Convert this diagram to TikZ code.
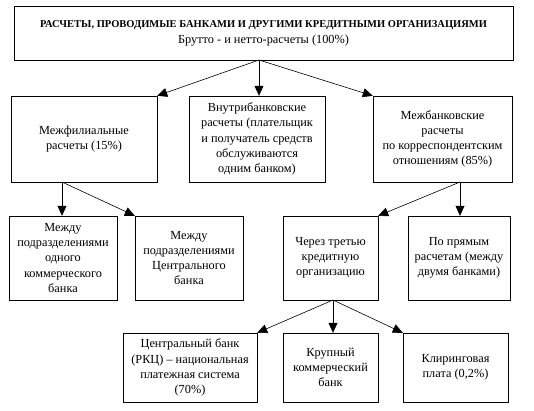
\documentclass[tikz,border=0pt]{standalone}
\usepackage{fontspec}
\setmainfont{Liberation Serif}
\usetikzlibrary{arrows.meta}
\usetikzlibrary{positioning}

\begin{document}
\begin{tikzpicture}[
    x=1pt, y=-1pt,
    >={Triangle[length=10pt,width=9pt]},
    box/.style={draw, align=center, inner sep=1pt, font=\fontsize{12.3}{15.2}\selectfont},
    link/.style={->, line width=0.6pt}
]
    \useasboundingbox (0,0) rectangle (534,410);

    % top
    \node[box, minimum width=499pt, minimum height=54pt] (all) at (263.5,33)
        {{\bfseries\fontsize{10.5}{13}\selectfont РАСЧЕТЫ, ПРОВОДИМЫЕ БАНКАМИ И ДРУГИМИ КРЕДИТНЫМИ ОРГАНИЗАЦИЯМИ}\\[1pt]Брутто - и нетто-расчеты (100\%)};
    \coordinate (allfork) at (259,60);

    % second row
    \node[box, minimum width=146pt, minimum height=86pt] (fil) at (84,139) {Межфилиальные\\расчеты (15\%)};
    \node[box, minimum width=136pt, minimum height=86pt] (intra) at (257,139)
        {Внутрибанковские\\расчеты (плательщик\\и получатель средств\\обслуживаются\\одним банком)};
    \node[box, minimum width=139pt, minimum height=86pt] (corr) at (442.5,139)
        {Межбанковские\\расчеты\\по корреспондентским\\отношениям (85\%)};

    \draw[link] (allfork) -- (fil.north east);
    \draw[link] (allfork) -- (allfork |- intra.north);
    \draw[link] (allfork) -- (corr.north west);

    % third row
    \node[box, minimum width=108pt, minimum height=84pt] (onebank) at (63,258)
        {Между\\подразделениями\\одного\\коммерческого\\банка};
    \node[box, minimum width=108pt, minimum height=84pt] (cbank) at (189,258)
        {Между\\подразделениями\\Центрального\\банка};
    \node[box, minimum width=95pt, minimum height=84pt] (third) at (330.5,258)
        {Через третью\\кредитную\\организацию};
    \node[box, minimum width=102pt, minimum height=84pt] (direct) at (459,258)
        {По прямым\\расчетам (между\\двумя банками)};

    \coordinate (filfork) at (62,182);
    \coordinate (corrfork) at (460,182);
    \draw[link] (filfork) -- (filfork |- onebank.north);
    \draw[link] (filfork) -- (cbank.north west);
    \draw[link] (corrfork) -- (corrfork |- direct.north);
    \draw[link] (corrfork) -- (third.north east);

    % fourth row
    \node[box, minimum width=134pt, minimum height=69pt] (rkc) at (190,367.5)
        {Центральный банк\\(РКЦ) -- национальная\\платежная система\\(70\%)};
    \node[box, minimum width=95pt, minimum height=69pt] (big) at (330.5,367.5)
        {Крупный\\коммерческий\\банк};
    \node[box, minimum width=105pt, minimum height=69pt] (clear) at (455.5,367.5)
        {Клиринговая\\плата (0,2\%)};

    \coordinate (thirdfork) at (333,300);
    \draw[link] (thirdfork) -- (rkc.north east);
    \draw[link] (thirdfork) -- (thirdfork |- big.north);
    \draw[link] (thirdfork) -- (clear.north west);
\end{tikzpicture}
\end{document}
